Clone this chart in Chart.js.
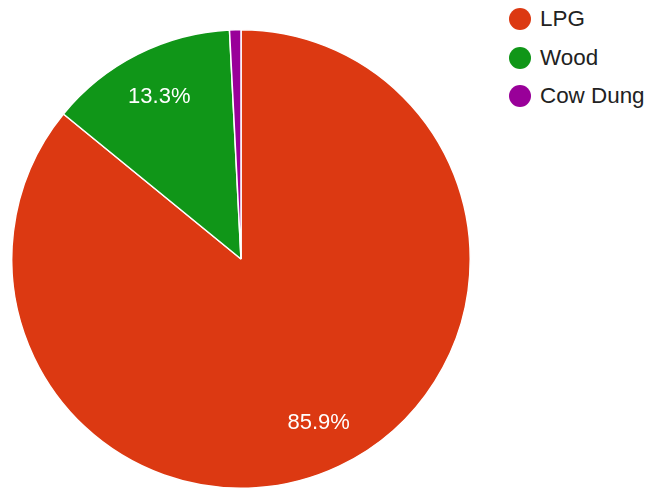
<!DOCTYPE html>
<html><head><meta charset="utf-8">
<script src="https://cdn.jsdelivr.net/npm/chart.js@4"></script>
<style>
html,body{margin:0;padding:0;background:#fff;width:646px;height:491px;overflow:hidden;font-family:"Liberation Sans",Arial,sans-serif;}
#wrap{position:absolute;left:0;top:0;width:482px;height:491px;}
#legend{position:absolute;left:509px;top:0;margin:0;padding:0;list-style:none;}
#legend li{position:absolute;left:0;height:24px;line-height:24px;white-space:nowrap;font-size:22.4px;color:#222;}
#legend .dot{position:absolute;left:0;top:1px;width:22px;height:22px;border-radius:50%;}
#legend .txt{position:absolute;left:31px;top:0;}
</style></head><body>
<div id="wrap"><canvas id="c"></canvas></div>
<ul id="legend"></ul>
<script>
const categories = ["LPG", "Wood", "Cow Dung"];
const values = [85.9, 13.3, 0.8];
const colors = ["#DC3912", "#109618", "#990099"];

const legendTops = [7, 45.5, 84];
const ul = document.getElementById('legend');
categories.forEach((c, i) => {
  const li = document.createElement('li');
  li.style.top = legendTops[i] + 'px';
  li.innerHTML = '<span class="dot" style="background:' + colors[i] + '"></span><span class="txt"></span>';
  li.querySelector('.txt').textContent = c;
  ul.appendChild(li);
});

const pctLabels = {
  id: 'pctLabels',
  afterDatasetsDraw(chart) {
    const ctx = chart.ctx;
    const meta = chart.getDatasetMeta(0);
    const data = chart.data.datasets[0].data;
    const total = data.reduce((a, b) => a + b, 0);
    ctx.save();
    ctx.fillStyle = '#fff';
    ctx.font = '22px "Liberation Sans", Arial, sans-serif';
    ctx.textAlign = 'center';
    ctx.textBaseline = 'middle';
    meta.data.forEach((arc, i) => {
      const p = data[i] / total * 100;
      if (p < 5) return;
      const mid = (arc.startAngle + arc.endAngle) / 2;
      const r = arc.outerRadius * 0.79;
      ctx.fillText(p.toFixed(1) + '%', arc.x + Math.cos(mid) * r, arc.y + Math.sin(mid) * r);
    });
    ctx.restore();
  }
};

new Chart(document.getElementById('c'), {
  type: 'pie',
  data: {
    labels: categories,
    datasets: [{ data: values, backgroundColor: colors, borderColor: '#fff', borderWidth: 1.5 }]
  },
  options: {
    responsive: true,
    maintainAspectRatio: false,
    animation: false,
    layout: { padding: { top: 29, bottom: 2, left: 11, right: 11 } },
    plugins: { legend: { display: false }, tooltip: { enabled: false } }
  },
  plugins: [pctLabels]
});
</script>
</body></html>
